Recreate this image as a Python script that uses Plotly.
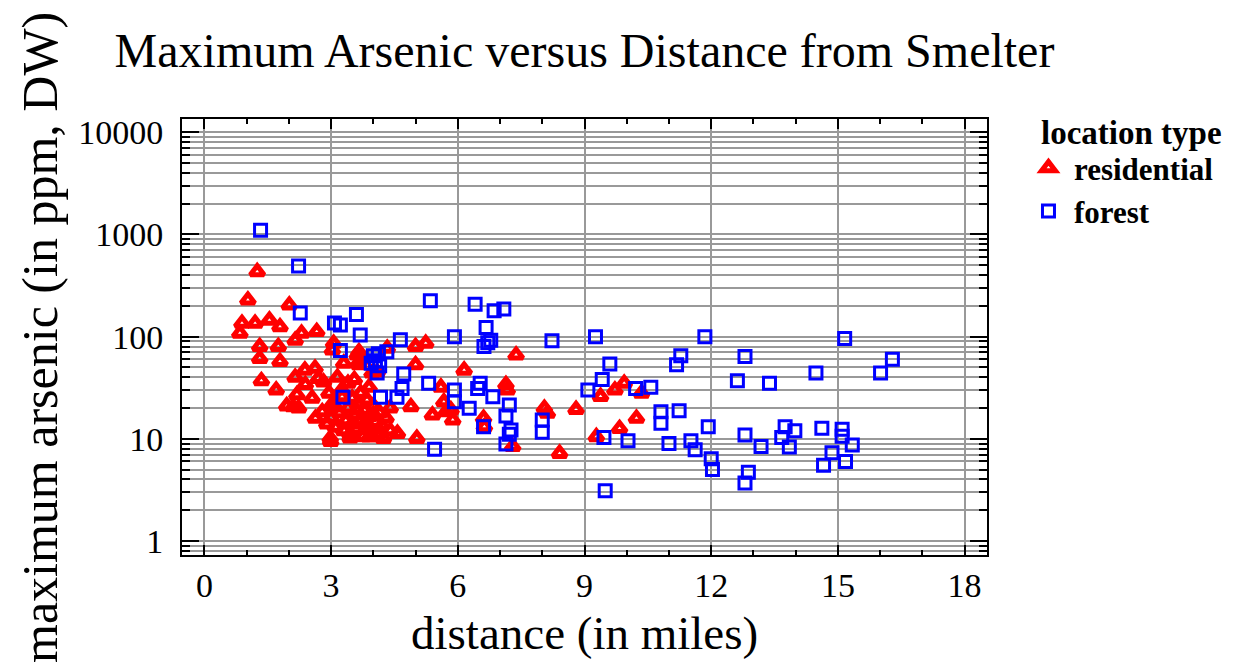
import plotly.graph_objects as go

# ---- data ----
forest_distance = [
    1.33, 2.23, 2.27, 3.08, 3.22, 3.60, 3.69, 5.35, 5.92, 4.64,
    3.22, 4.00, 4.05, 4.12, 3.95, 4.15, 4.32, 4.09, 4.72, 5.31,
    4.68, 5.92, 5.92, 4.17, 4.56, 3.28, 5.45, 6.41, 6.86, 7.09,
    6.67, 6.71, 6.62, 6.78, 8.23, 9.26, 11.85, 11.28, 11.18, 9.60,
    9.42, 9.08, 10.21, 10.57, 6.53, 6.47, 6.27, 6.83, 7.22, 7.14,
    6.61, 7.26, 7.22, 7.14, 8.00, 8.00, 9.46, 10.03, 9.49, 10.81,
    10.81, 11.24, 11.00, 11.93, 11.52, 11.62, 12.00, 12.03, 15.16, 16.29,
    16.01, 12.80, 12.62, 13.38, 14.48, 12.80, 13.18, 13.75, 13.98, 13.67,
    13.85, 14.62, 15.10, 15.10, 15.34, 14.86, 15.18, 14.66, 12.88, 12.80,
]
forest_arsenic = [
    1100, 490, 170, 136, 130, 165, 104, 224, 100, 93,
    73, 65, 58, 68, 55, 52, 71, 44, 43, 35,
    31, 30, 23, 25.5, 25.5, 25.5, 7.9, 207, 179, 186,
    123, 87, 80, 92, 91, 100, 100, 65, 53, 54,
    38, 30, 31, 32, 35, 31, 19.9, 25.8, 21.4, 16.7,
    13.1, 12.2, 11.1, 8.9, 15.3, 11.6, 10.3, 9.6, 3.1, 18.4,
    14.2, 18.8, 9.0, 13.1, 9.6, 7.8, 6.4, 5.0, 96, 60,
    44, 64, 37, 35, 44, 10.9, 8.4, 13.1, 12.0, 10.3,
    8.3, 12.7, 12.4, 10.6, 8.7, 7.3, 6.0, 5.5, 4.7, 3.7,
]

residential_distance = [
    0.89, 0.84, 1.20, 1.54, 1.79, 1.25, 1.03, 2.01, 1.31, 1.31,
    1.75, 1.79, 1.35, 1.70, 1.95, 2.10, 2.23, 2.15, 2.38, 2.62,
    2.70, 2.82, 2.66, 2.30, 2.15, 2.19, 2.39, 2.55, 2.79, 2.63,
    3.03, 2.99, 3.06, 3.03, 3.30, 3.66, 3.66, 3.26, 3.62, 4.09,
    4.33, 3.97, 3.67, 4.24, 4.57, 5.03, 2.98, 5.24, 5.00, 5.00,
    6.15, 4.89, 5.40, 5.72, 5.88, 5.67, 6.61, 6.63, 7.38, 5.60,
    7.14, 7.17, 5.84, 7.30, 8.05, 8.12, 8.41, 8.80, 9.28, 9.83,
    10.23, 9.38, 9.72, 9.94, 10.35, 2.90, 3.00, 3.10, 3.20, 3.30,
    3.35, 3.40, 3.45, 3.50, 3.55, 3.60, 3.65, 3.70, 3.75, 3.80,
    3.85, 3.90, 3.95, 4.00, 4.05, 4.10, 4.15, 4.20, 4.30, 4.40,
    3.50, 3.70, 3.85, 3.25, 3.40, 3.15, 3.55, 3.90, 4.40, 2.95,
    3.10, 3.60, 3.80, 4.00, 3.45, 3.90,
]
residential_arsenic = [
    135, 108, 135, 145, 125, 432, 228, 204, 80, 61,
    80, 57, 37, 30, 21, 20.6, 20, 40, 47, 49,
    39, 36, 112, 108, 92, 27, 34, 25, 18.4, 15.9,
    22, 9.4, 86, 74, 55, 71, 53, 25.8, 66, 45,
    77, 44, 57, 10.1, 11.3, 10.1, 10.1, 86, 80, 53,
    47, 20.6, 17.1, 18.4, 15.3, 23, 15.9, 13.1, 66, 32,
    34, 30, 19.1, 8.4, 19.9, 17.8, 7.2, 19.4, 10.5, 12.6,
    15.9, 26, 30, 35, 28, 14, 16, 13, 18, 12,
    15, 20, 11, 14, 17, 12.5, 22, 15, 10.5, 19,
    13, 16.5, 12, 21, 14.5, 11, 18, 13.5, 16, 12,
    25, 28, 24, 30, 35, 40, 38, 32, 20, 28,
    20.5, 19, 14, 17.5, 10.2, 10.4,
]

x_ticks = [0, 3, 6, 9, 12, 15, 18]
y_ticks = [1, 10, 100, 1000, 10000]

FONT = "Liberation Serif, Times New Roman, serif"
GRID = "#999999"

fig = go.Figure()
fig.add_trace(go.Scatter(
    x=residential_distance, y=residential_arsenic, mode="markers",
    name="residential",
    marker=dict(symbol="triangle-up-open", size=12, color="#ff0000",
                line=dict(width=5, color="#ff0000")),
))
fig.add_trace(go.Scatter(
    x=forest_distance, y=forest_arsenic, mode="markers",
    name="forest",
    marker=dict(symbol="square-open", size=12, color="#0000ff",
                line=dict(width=3, color="#0000ff")),
))

# page body adds an 8px offset, so the figure is laid out 8px smaller
W, H = 1230, 661
fig.update_layout(
    width=W, height=H,
    margin=dict(l=174, r=251, t=111, b=114, autoexpand=False),
    paper_bgcolor="white", plot_bgcolor="white",
    font=dict(family=FONT, color="black", size=34),
    title=dict(text="Maximum Arsenic versus Distance from Smelter",
               x=0.5, xref="paper", xanchor="center",
               y=1 - 42 / H, yref="container", yanchor="middle",
               font=dict(family=FONT, size=48, color="black")),
    legend=dict(
        font=dict(family=FONT, size=31, color="black", weight="bold"),
        x=1.0447, xanchor="left", y=0.9495, yanchor="top",
        bgcolor="rgba(0,0,0,0)", tracegroupgap=0, itemwidth=41,
    ),
    showlegend=True,
    annotations=[
        dict(text="<b>location type</b>", xref="paper", yref="paper",
             x=1.180, y=0.968, xanchor="center", yanchor="middle",
             showarrow=False, font=dict(family=FONT, size=33, color="black")),
        dict(text="distance (in miles)", xref="paper", yref="paper",
             x=0.5, y=-0.179, xanchor="center", yanchor="middle",
             showarrow=False, font=dict(family=FONT, size=47, color="black")),
        dict(text="maximum arsenic (in ppm, DW)", xref="paper", yref="paper",
             x=-0.1764, y=0.5, xanchor="center", yanchor="middle",
             textangle=-90, showarrow=False,
             font=dict(family=FONT, size=50, color="black")),
    ],
)

fig.update_xaxes(
    range=[-0.53, 18.53], tickvals=x_ticks, ticktext=[str(v) for v in x_ticks],
    ticks="inside", ticklen=10, tickwidth=2, tickcolor="black",
    showline=True, linecolor="black", linewidth=2, mirror="allticks",
    showgrid=True, gridcolor=GRID, gridwidth=2, zeroline=False,
    tickfont=dict(family=FONT, size=34), ticklabelstandoff=-1,
    minor=dict(dtick=1, ticks="inside", ticklen=5, tickwidth=2,
               tickcolor="black", showgrid=False),
)
fig.update_yaxes(
    type="log", range=[-0.137, 4.13], tickvals=y_ticks,
    ticktext=[str(v) for v in y_ticks],
    ticks="inside", ticklen=17, tickwidth=2, tickcolor="black",
    showline=True, linecolor="black", linewidth=2, mirror="allticks",
    showgrid=True, gridcolor=GRID, gridwidth=2, zeroline=False,
    tickfont=dict(family=FONT, size=34), ticklabelstandoff=10,
    minor=dict(dtick="D1", ticks="inside", ticklen=8, tickwidth=2,
               tickcolor="black", showgrid=True, gridcolor=GRID, gridwidth=2),
)

fig.write_html("out.html")
